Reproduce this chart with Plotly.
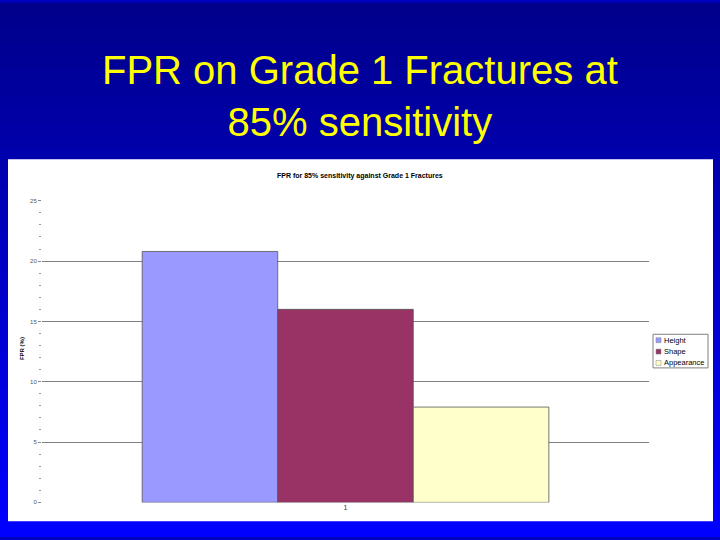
import plotly.graph_objects as go

# Data
categories = ["1"]
series_names = ["Height", "Shape", "Appearance"]
fpr_values = [20.8, 16.0, 7.9]
series_colors = ["#9999FF", "#993366", "#FFFFCC"]

W, H = 720, 540

def px_x(x):
    return x / W

def px_y(y):
    return 1 - y / H

fig = go.Figure()

for name, val, col in zip(series_names, fpr_values, series_colors):
    fig.add_trace(go.Bar(x=categories, y=[val], name=name, showlegend=False,
                         marker=dict(color=col, line=dict(color="#555555", width=0.8))))

# slide background: vertical gradient made of thin strips
n_strips = 40
top_rgb = (0, 0, 0x8C)
bot_rgb = (0, 0, 0xFF)
shapes = []
for i in range(n_strips):
    t = i / (n_strips - 1)
    c = tuple(int(top_rgb[k] + (bot_rgb[k] - top_rgb[k]) * t) for k in range(3))
    shapes.append(dict(type="rect", xref="paper", yref="paper", layer="below",
                       x0=0, x1=1, y0=1 - (i + 1) / n_strips, y1=1 - i / n_strips + 0.001,
                       line=dict(width=0), fillcolor="rgb(%d,%d,%d)" % c))

# white chart box
shapes.append(dict(type="rect", xref="paper", yref="paper", layer="below",
                   x0=px_x(8), x1=px_x(713), y0=px_y(524), y1=px_y(158),
                   line=dict(width=0), fillcolor="white"))

annotations = [
    dict(text="FPR on Grade 1 Fractures at<br>85% sensitivity",
         xref="paper", yref="paper", x=0.5, y=px_y(94),
         xanchor="center", yanchor="middle", showarrow=False,
         font=dict(family="Liberation Sans, Arial", size=40, color="#FFFF00")),
    dict(text="<b>FPR for 85% sensitivity against Grade 1 Fractures</b>",
         xref="paper", yref="paper", x=px_x(360), y=px_y(175),
         xanchor="center", yanchor="middle", showarrow=False,
         font=dict(size=7, color="black")),
    dict(text="<b>FPR (%)</b>", textangle=-90,
         xref="paper", yref="paper", x=px_x(22), y=px_y(350),
         xanchor="center", yanchor="middle", showarrow=False,
         font=dict(size=6, color="black")),
]

# small Excel-style legend box on the right
shapes.append(dict(type="rect", xref="paper", yref="paper",
                   x0=px_x(653), x1=px_x(708), y0=px_y(369), y1=px_y(335),
                   line=dict(color="#808080", width=1), fillcolor="white"))
for i, (name, col) in enumerate(zip(series_names, series_colors)):
    yc = 341 + i * 11.5
    shapes.append(dict(type="rect", xref="paper", yref="paper",
                       x0=px_x(656), x1=px_x(661), y0=px_y(yc + 2.5), y1=px_y(yc - 2.5),
                       line=dict(color="#808080", width=0.5), fillcolor=col))
    annotations.append(dict(text=name, xref="paper", yref="paper",
                            x=px_x(662), y=px_y(yc), xanchor="left", yanchor="middle",
                            showarrow=False, font=dict(size=7.5, color="black")))

fig.update_layout(
    width=W, height=H,
    autosize=False,
    margin=dict(l=0, r=0, t=0, b=0),
    paper_bgcolor="#0000C0",
    plot_bgcolor="#C0C0C0",
    font=dict(family="Liberation Sans, Arial", color="black", size=7),
    barmode="group",
    bargap=0.33,
    bargroupgap=0,
    shapes=shapes,
    annotations=annotations,
    showlegend=False,
    xaxis=dict(domain=[px_x(42), px_x(649)], showgrid=False, zeroline=False,
               tickfont=dict(size=7, color="#333333"), ticks="", showline=False),
    yaxis=dict(domain=[px_y(505), px_y(200)], range=[0, 25], dtick=5,
               showgrid=True, gridcolor="#808080", gridwidth=1, zeroline=False,
               tickfont=dict(size=6, color="#555555"), ticks="outside",
               ticklen=3, tickcolor="#888888", showline=False,
               minor=dict(dtick=1, ticks="outside", ticklen=2, tickcolor="#999999",
                          showgrid=False)),
)

fig.write_html("out.html", config={"responsive": False, "displayModeBar": False},
               post_script="document.body.style.margin='0px';")
